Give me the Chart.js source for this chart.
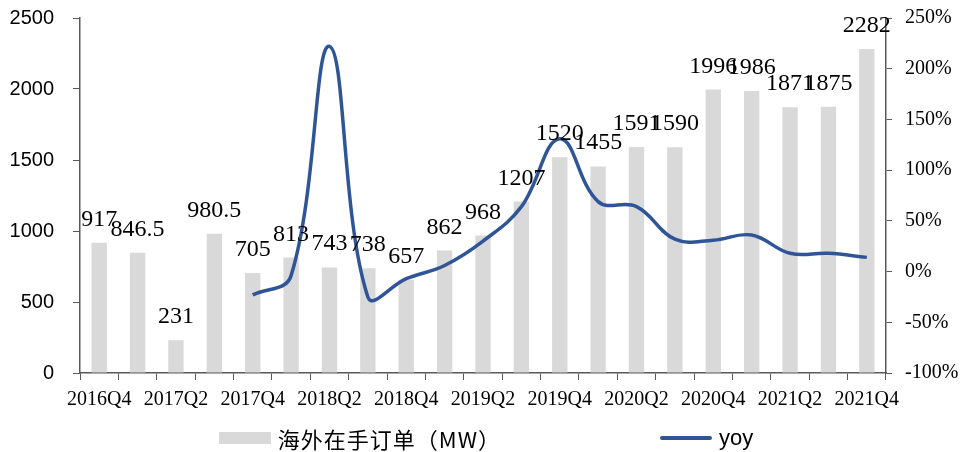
<!DOCTYPE html>
<html>
<head>
<meta charset="utf-8">
<script src="https://cdn.jsdelivr.net/npm/chart.js@4"></script>
<style>
  html, body { margin: 0; padding: 0; background: #fff; }
  #wrap { position: relative; width: 960px; height: 452px; }
  #legenda {
    position: absolute; left: 6px; top: 426px; width: 960px; height: 24px;
    display: flex; justify-content: center; align-items: center; gap: 159px;
  }
  .item { display: flex; align-items: center; gap: 7px; font-size: 22px; color: #000; }
  .caixa { width: 52px; height: 12px; background: #d9d9d9; }
  .traco { width: 52px; height: 4px; background: #2f5597; border-radius: 2px; }
</style>
</head>
<body>
<div id="wrap">
  <canvas id="pedidos" width="960" height="452"></canvas>
  <div id="legenda">
    <div class="item"><span class="caixa"></span><span style="font-family:'Noto Sans CJK SC',sans-serif;letter-spacing:1px">海外在手订单（MW）</span></div>
    <div class="item"><span class="traco"></span><span style="font-family:'Liberation Sans',sans-serif">yoy</span></div>
  </div>
</div>
<script>
// ===== Dados =====
const trimestres = ['2016Q4', '2017Q1', '2017Q2', '2017Q3', '2017Q4', '2018Q1', '2018Q2', '2018Q3',
  '2018Q4', '2019Q1', '2019Q2', '2019Q3', '2019Q4', '2020Q1', '2020Q2', '2020Q3',
  '2020Q4', '2021Q1', '2021Q2', '2021Q3', '2021Q4'];
const pedidosMW = [917, 846.5, 231, 980.5, 705, 813, 743, 738, 657, 862, 968, 1207,
  1520, 1455, 1591, 1590, 1996, 1986, 1871, 1875, 2282];
const yoy = [null, null, null, null, -0.23, -0.04, 2.22, -0.25, -0.07, 0.06, 0.30, 0.64,
  1.31, 0.69, 0.64, 0.32, 0.31, 0.36, 0.18, 0.18, 0.14];

const corEixo = '#595959';
const serif = 'Liberation Serif';

// rótulos de valor acima das barras
const rotulosBarras = {
  id: 'rotulosBarras',
  afterDatasetsDraw(chart) {
    const meta = chart.getDatasetMeta(0);
    const ctx = chart.ctx;
    ctx.save();
    ctx.font = '24px "' + serif + '"';
    ctx.fillStyle = '#000';
    ctx.textAlign = 'center';
    ctx.textBaseline = 'alphabetic';
    meta.data.forEach((bar, i) => {
      ctx.fillText(String(pedidosMW[i]), bar.x, bar.y - 17);
    });
    ctx.restore();
  }
};

// largura fixa dos eixos verticais, sem folga extra em cima/embaixo
const ajustaEixo = largura => s => {
  s.width = largura;
  s.paddingTop = 0;
  s.paddingBottom = 0;
};

new Chart(document.getElementById('pedidos'), {
  data: {
    labels: trimestres,
    datasets: [
      {
        type: 'bar',
        label: '海外在手订单（MW）',
        data: pedidosMW,
        backgroundColor: '#d9d9d9',
        barPercentage: 0.4,
        categoryPercentage: 1,
        yAxisID: 'y',
        order: 1
      },
      {
        type: 'line',
        label: 'yoy',
        data: yoy,
        borderColor: '#2f5597',
        borderWidth: 3.5,
        pointRadius: 0,
        tension: 0.4,
        yAxisID: 'y1',
        order: 0
      }
    ]
  },
  options: {
    responsive: false,
    animation: false,
    layout: { padding: { left: 0, right: 0, top: 18, bottom: 32 } },
    plugins: {
      legend: { display: false },
      tooltip: { enabled: false }
    },
    scales: {
      x: {
        grid: { offset: true, drawOnChartArea: false, tickLength: 7, color: corEixo },
        border: { color: corEixo, width: 1.5 },
        ticks: {
          autoSkip: false,
          maxRotation: 0,
          padding: 8,
          color: '#000',
          font: { family: serif, size: 20 },
          callback: (v, i) => (i % 2 === 0 ? trimestres[i] : '')
        }
      },
      y: {
        position: 'left',
        min: 0,
        max: 2500,
        afterFit: ajustaEixo(80),
        grid: { drawOnChartArea: false, tickLength: 7, color: corEixo },
        border: { color: corEixo, width: 1.5 },
        ticks: {
          stepSize: 500,
          padding: 19,
          color: '#000',
          font: { family: 'Liberation Sans', size: 20 },
          callback: v => String(v)
        }
      },
      y1: {
        position: 'right',
        min: -1,
        max: 2.5,
        afterFit: ajustaEixo(74),
        grid: { drawOnChartArea: false, tickLength: 6, color: corEixo },
        border: { color: corEixo, width: 1.5 },
        ticks: {
          stepSize: 0.5,
          padding: 13,
          color: '#000',
          font: { family: serif, size: 20 },
          callback: v => Math.round(v * 100) + '%'
        }
      }
    }
  },
  plugins: [rotulosBarras]
});
</script>
</body>
</html>
